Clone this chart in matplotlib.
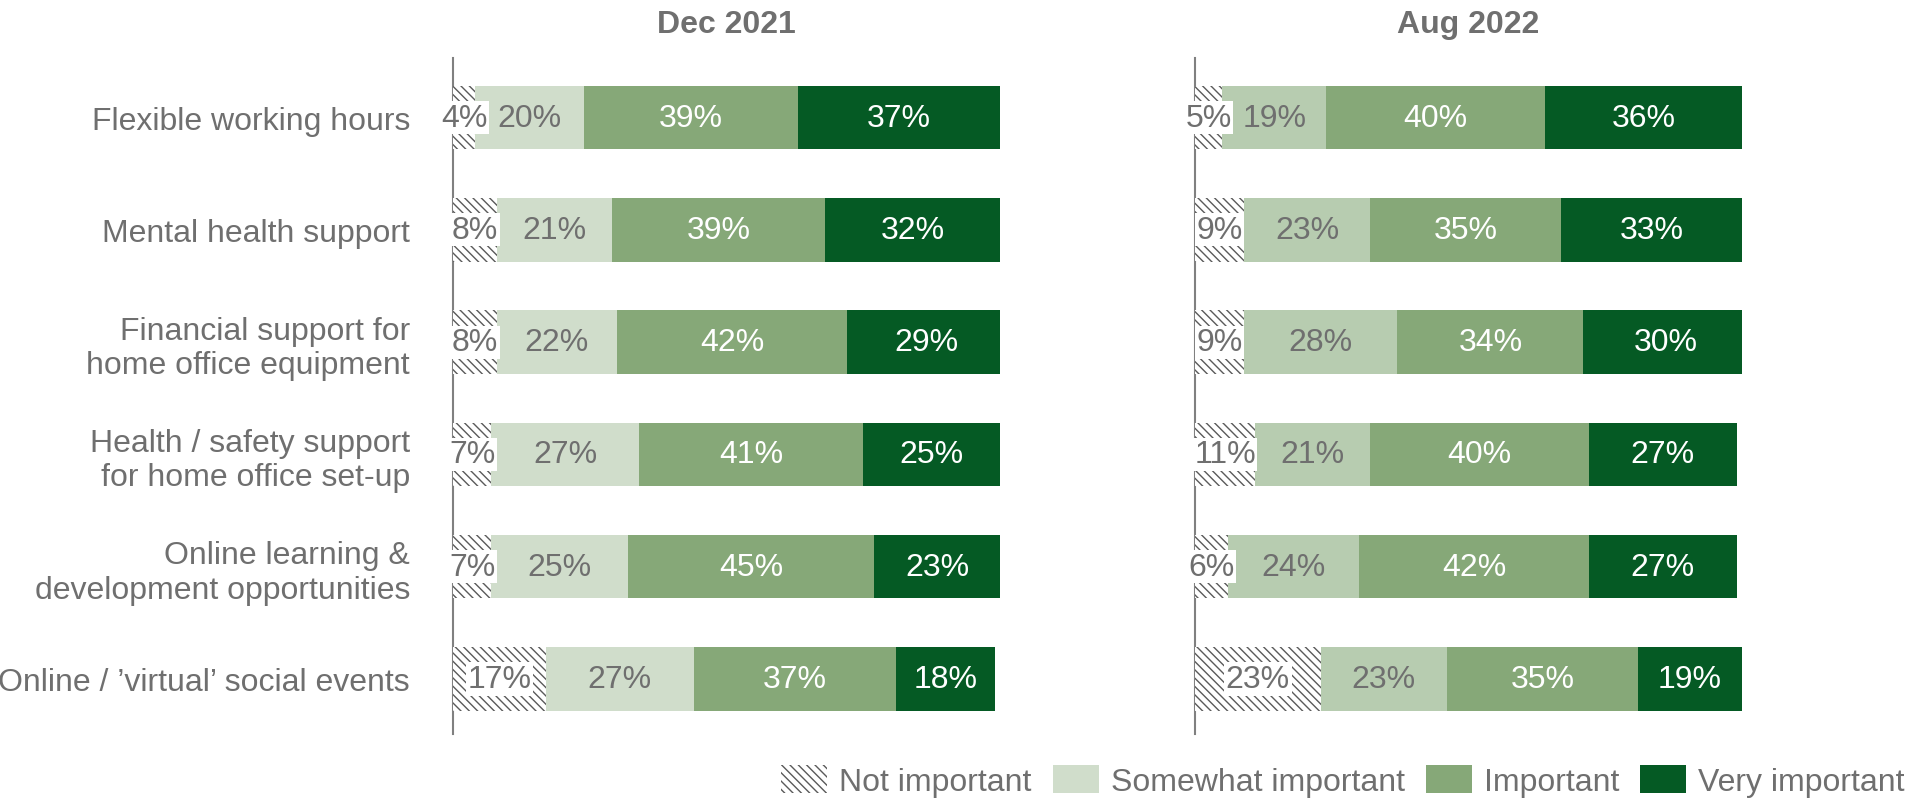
import numpy as np
import matplotlib
matplotlib.use('Agg')
import matplotlib.pyplot as plt
from matplotlib.patches import Patch

plt.rcParams['font.family'] = ['Liberation Sans', 'DejaVu Sans']
plt.rcParams['hatch.linewidth'] = 1.0

categories = ['Flexible working hours',
              'Mental health support',
              'Financial support for\nhome office equipment',
              'Health / safety support\nfor home office set-up',
              'Online learning &\ndevelopment opportunities',
              'Online / \u2019virtual\u2019 social events']
levels = ['Not important', 'Somewhat important', 'Important', 'Very important']
periods = ['Dec 2021', 'Aug 2022']

# rows follow categories, columns follow levels
dec_2021 = [[4, 20, 39, 37],
            [8, 21, 39, 32],
            [8, 22, 42, 29],
            [7, 27, 41, 25],
            [7, 25, 45, 23],
            [17, 27, 37, 18]]
aug_2022 = [[5, 19, 40, 36],
            [9, 23, 35, 33],
            [9, 28, 34, 30],
            [11, 21, 40, 27],
            [6, 24, 42, 27],
            [23, 23, 35, 19]]

grey = '#6f6f6f'
dark = '#055a24'
mid = '#86a878'
light = {'Dec 2021': '#d0ddcb', 'Aug 2022': '#b7ccb0'}
hatch_col = '#5a5a5a'
fs = 23

W, H = 1908, 803
fig = plt.figure(figsize=(W / 100, H / 100), dpi=100)

ax_left = [453, 1195]
ax_w = 547
ax_top, ax_bot = 59, 735

for k, (name, data) in enumerate(zip(periods, [dec_2021, aug_2022])):
    ax = fig.add_axes([ax_left[k] / W, 1 - ax_bot / H, ax_w / W, (ax_bot - ax_top) / H])
    data = np.array(data)
    y = np.arange(len(categories))
    colors = ['white', light[name], mid, dark]
    txtcol = [grey, grey, 'white', 'white']
    left = np.zeros(len(categories))
    for j in range(4):
        if j == 0:
            ax.barh(y, data[:, j], left=left, height=0.565, color='white',
                    edgecolor=hatch_col, linewidth=0, hatch='\\\\\\\\')
        else:
            ax.barh(y, data[:, j], left=left, height=0.565, color=colors[j], linewidth=0)
        for i, v in enumerate(data[:, j]):
            bb = None
            if j == 0:
                bb = dict(boxstyle='square,pad=0.05', fc='white', ec='none')
            ax.text(left[i] + v / 2, y[i], '%d%%' % v, ha='center', va='center',
                    fontsize=fs, color=txtcol[j], bbox=bb)
        left += data[:, j]

    ax.set_xlim(0, 100)
    ax.set_ylim(5.49, -0.53)
    for s in ['top', 'right', 'bottom']:
        ax.spines[s].set_visible(False)
    ax.spines['left'].set_color('#808080')
    ax.spines['left'].set_linewidth(1.5)
    ax.spines['left'].set_zorder(0)
    ax.set_xticks([])
    ax.set_yticks(y)
    if k == 0:
        ax.set_yticklabels(categories, fontsize=fs, color=grey, ha='right', multialignment='right')
        ax.tick_params(axis='y', length=0, pad=31)
    else:
        ax.set_yticklabels([])
        ax.tick_params(axis='y', length=0)
    ax.text(0.5, 1 + 34 / (ax_bot - ax_top), name, transform=ax.transAxes, ha='center',
            va='center', fontsize=fs, fontweight='bold', color=grey)

handles = [Patch(facecolor='white', edgecolor=hatch_col, linewidth=0, hatch='\\\\\\\\'),
           Patch(facecolor=light['Dec 2021']),
           Patch(facecolor=mid),
           Patch(facecolor=dark)]
leg = fig.legend(handles, levels, loc='center right', bbox_to_anchor=(1905 / W, 1 - 782 / H),
                 ncol=4, frameon=False, fontsize=fs, handlelength=1.44, handleheight=1.0,
                 handletextpad=0.38, columnspacing=0.66, borderaxespad=0, borderpad=0)
for t in leg.get_texts():
    t.set_color(grey)

fig.savefig('out.png', dpi=100)
